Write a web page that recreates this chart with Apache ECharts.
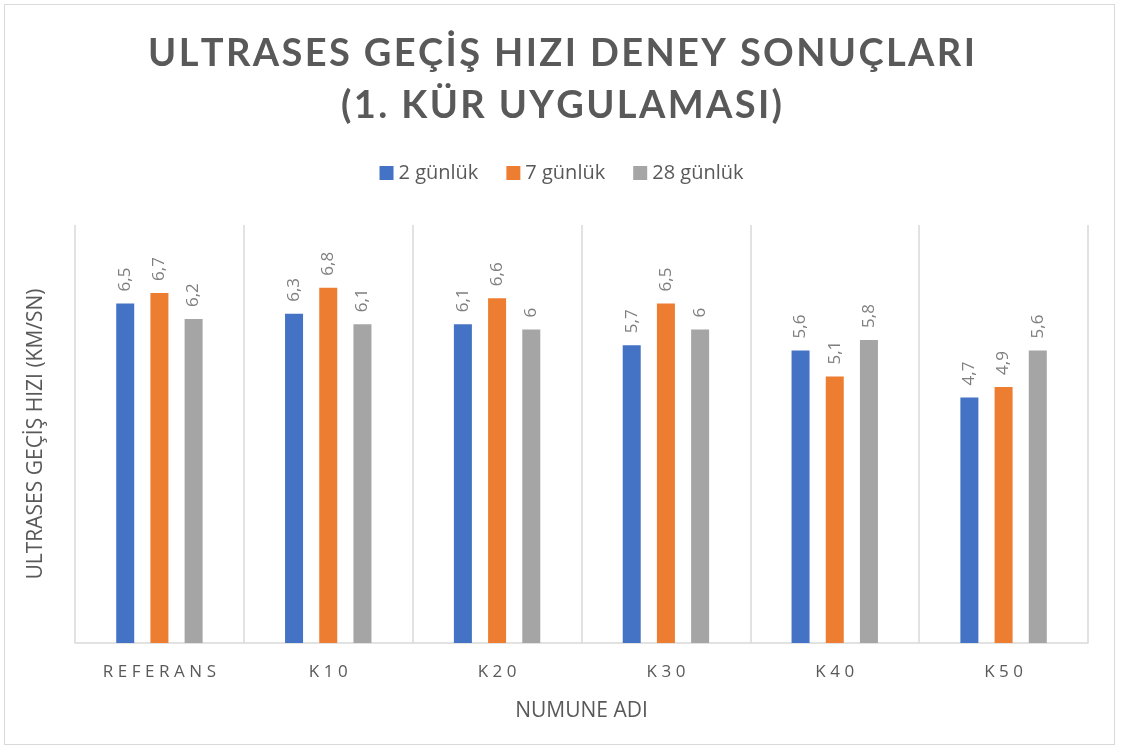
<!DOCTYPE html>
<html>
<head>
<meta charset="utf-8">
<script src="https://cdn.jsdelivr.net/npm/echarts@6/dist/echarts.min.js"></script>
<style>
  html, body { margin: 0; padding: 0; background: #fff; }
  #frame { position: absolute; left: 4px; top: 4px; width: 1111px; height: 741px; border: 1px solid #d9d9d9; box-sizing: border-box; }
  #chart { width: 1123px; height: 749px; position: absolute; left: 0; top: 0; }
</style>
</head>
<body>
<div id="frame"></div>
<div id="chart"></div>
<script>
// numune adlari
const categories = ['REFERANS', 'K10', 'K20', 'K30', 'K40', 'K50']
const seriesNames = ['2 günlük', '7 günlük', '28 günlük']
const gun2 = [6.5, 6.3, 6.1, 5.7, 5.6, 4.7]
const gun7 = [6.7, 6.8, 6.6, 6.5, 5.1, 4.9]
const gun28 = [6.2, 6.1, 6, 6, 5.8, 5.6]
const colors = ['#4472C4', '#ED7D31', '#A5A5A5']

const titleFont = 'Lato, sans-serif'
const font = '"Open Sans", sans-serif'
const textColor = '#595959'

// harfler arasina ince bosluk koy
function spaced(str, sep) {
  return str.split('').join(sep)
}

function makeBar(name, data, color) {
  return {
    name: name,
    type: 'bar',
    data: data,
    barWidth: 18,
    barGap: '90%',
    itemStyle: { color: color },
    label: {
      show: true,
      position: 'top',
      rotate: 90,
      align: 'left',
      verticalAlign: 'middle',
      distance: 12,
      color: '#7f7f7f',
      fontFamily: font,
      fontSize: 17,
      formatter: p => String(p.value).replace('.', ',')
    }
  }
}

const chart = echarts.init(document.getElementById('chart'))
chart.setOption({
  animation: false,
  title: {
    text: spaced('ULTRASES GEÇİŞ HIZI DENEY SONUÇLARI', '\u200A') + '\n' + spaced('(1. KÜR UYGULAMASI)', '\u200A'),
    left: 'center',
    top: 23,
    textStyle: {
      color: textColor,
      fontFamily: titleFont,
      fontWeight: 'bold',
      fontSize: 38,
      lineHeight: 52
    }
  },
  legend: {
    top: 158,
    left: 'center',
    itemWidth: 14,
    itemHeight: 14,
    itemGap: 28,
    icon: 'rect',
    textStyle: { color: textColor, fontFamily: font, fontSize: 20 },
    data: seriesNames
  },
  grid: { left: 75, right: 35, top: 225, bottom: 106 },
  xAxis: {
    type: 'category',
    data: categories,
    name: 'NUMUNE ADI',
    nameLocation: 'middle',
    nameGap: 58,
    nameTextStyle: { color: textColor, fontFamily: font, fontSize: 21 },
    axisLine: { lineStyle: { color: '#d9d9d9', width: 1.5 } },
    axisTick: { show: false },
    splitLine: { show: true, lineStyle: { color: '#d9d9d9', width: 1.5 } },
    axisLabel: {
      color: textColor,
      fontFamily: font,
      fontSize: 17,
      margin: 21,
      formatter: v => spaced(v, '\u2009\u200A')
    }
  },
  yAxis: {
    type: 'value',
    min: 0,
    max: 8,
    name: 'ULTRASES GEÇİŞ HIZI (KM/SN)',
    nameLocation: 'middle',
    nameGap: 28,
    nameTextStyle: { color: textColor, fontFamily: font, fontSize: 21 },
    axisLabel: { show: false },
    axisLine: { show: false },
    axisTick: { show: false },
    splitLine: { show: false }
  },
  series: [
    makeBar(seriesNames[0], gun2, colors[0]),
    makeBar(seriesNames[1], gun7, colors[1]),
    makeBar(seriesNames[2], gun28, colors[2])
  ]
})
</script>
</body>
</html>
